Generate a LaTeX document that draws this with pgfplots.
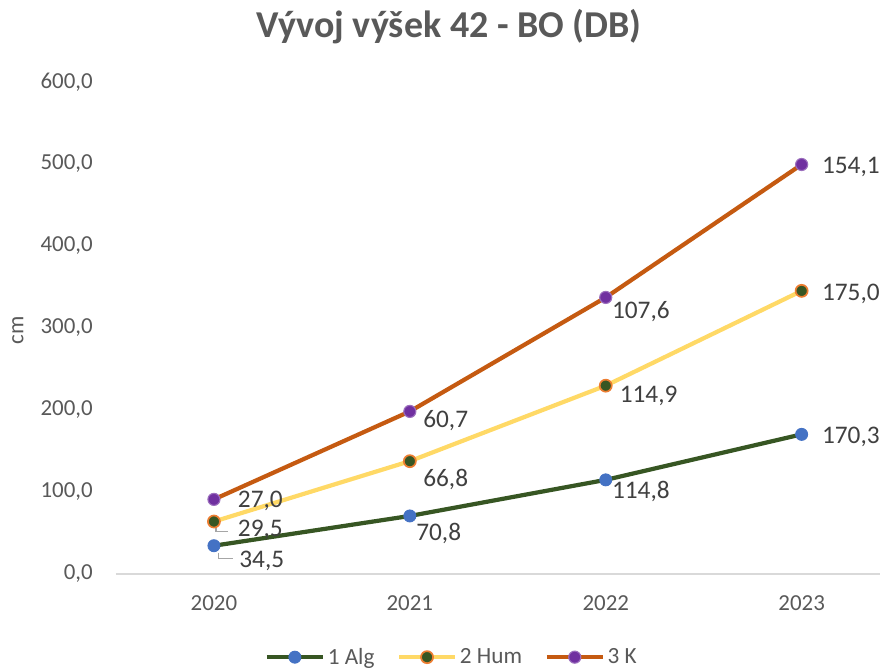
\documentclass[border=0pt]{standalone}
\usepackage{pgfplots}
\usepackage{pgfplotstable}
\usepackage{fontspec}
\setmainfont{Carlito}
\pgfplotsset{compat=1.18}
\definecolor{txtgray}{HTML}{595959}
\definecolor{lblgray}{HTML}{404040}
\definecolor{algline}{HTML}{375623}
\definecolor{algmark}{HTML}{4472C4}
\definecolor{humline}{HTML}{FFD966}
\definecolor{hummark}{HTML}{375623}
\definecolor{humedge}{HTML}{ED7D31}
\definecolor{kline}{HTML}{C55A11}
\definecolor{kmark}{HTML}{7030A0}
\definecolor{axgray}{HTML}{D9D9D9}
\definecolor{leader}{HTML}{A6A6A6}

% x = category index (0=2020 ... 3=2023); dx, dy = label offsets in pt
\pgfplotstableread{
x  val    dx    dy
0  34.5   34    -10.6
1  70.8   20.5  -12.8
2  114.8  25    -8
3  170.3  35    -2
}\algdata
\pgfplotstableread{
x  val    dx    dy
0  29.5   33    -5.7
1  66.8   25.5  -12.8
2  114.9  30.5  -7
3  175.0  35    -2
}\humdata
\pgfplotstableread{
x  val    dx    dy
0  27.0   33    -1.4
1  60.7   25.5  -6.4
2  107.6  25    -10
3  154.1  35    -2
}\kdata

\begin{document}
\begin{tikzpicture}
\begin{axis}[
  scale only axis,
  width=19.1cm, height=12.3cm,
  xmin=-0.5, xmax=3.4,
  ymin=0, ymax=600,
  clip=false,
  stack plots=y,
  axis y line*=left,
  axis x line*=bottom,
  y axis line style={draw=none},
  x axis line style={draw=axgray, line width=1pt},
  xtick={0,1,2,3},
  xticklabels={2020,2021,2022,2023},
  ytick={0,100,...,600},
  major tick length=0pt,
  tick style={draw=none},
  yticklabel style={/pgf/number format/fixed, /pgf/number format/fixed zerofill, /pgf/number format/precision=1, /pgf/number format/use comma, /pgf/number format/1000 sep={}},
  /pgf/number format/assume math mode=true,
  ticklabel style={font=\fontsize{16.3}{19}\selectfont, text=txtgray},
  xticklabel style={yshift=-12pt},
  yticklabel style={xshift=-13pt},
  title={\textbf{Vývoj výšek 42 - BO (DB)}},
  title style={font=\fontsize{27}{32}\selectfont, text=txtgray, at={(rel axis cs:0.436,1)}, anchor=center, yshift=1.18cm},
  nodes near coords,
  point meta=explicit,
  nodes near coords style={/pgf/number format/fixed, /pgf/number format/fixed zerofill, /pgf/number format/precision=1, /pgf/number format/use comma, /pgf/number format/1000 sep={}},
  visualization depends on={\thisrow{dx}\as\dx},
  visualization depends on={\thisrow{dy}\as\dy},
  every node near coord/.append style={font=\fontsize{18}{21}\selectfont, text=lblgray, anchor=center, xshift=\dx*1pt, yshift=\dy*1pt},
  legend columns=3,
  legend style={draw=none, at={(0.44,-0.169)}, anchor=center, font=\fontsize{16.5}{19}\selectfont, text=txtgray, /tikz/every even column/.append style={column sep=14pt}},
  legend image code/.code={\draw[mark repeat=2, mark phase=2, #1] plot coordinates {(0cm,0cm) (0.7cm,0cm) (1.4cm,0cm)};},
]
\addplot[algline, line width=3pt, mark=*, mark size=4.3pt, mark options={fill=algmark, draw=algmark, line width=0.6pt}]
  table[x=x, y=val, meta=val] {\algdata};
\addlegendentry{1 Alg}
\addplot[humline, line width=3pt, mark=*, mark size=4.3pt, mark options={fill=hummark, draw=humedge, line width=1.2pt}]
  table[x=x, y=val, meta=val] {\humdata};
\addlegendentry{2 Hum}
\addplot[kline, line width=3pt, mark=*, mark size=4.3pt, mark options={fill=kmark, draw=kmark!70!white, line width=0.8pt}]
  table[x=x, y=val, meta=val] {\kdata};
\addlegendentry{3 K}
% leader lines of the 2020 labels
\draw[leader, line width=0.8pt] ([xshift=3.5pt,yshift=-5pt]axis cs:0,34.5) |- ([xshift=13.5pt,yshift=-9.2pt]axis cs:0,34.5);
\draw[leader, line width=0.8pt] ([xshift=1.5pt,yshift=-4.3pt]axis cs:0,64) |- ([xshift=10pt,yshift=-7pt]axis cs:0,64);
\end{axis}
\node[rotate=90, font=\fontsize{16.3}{19}\selectfont, text=txtgray] at (-2.45cm,6.1cm) {cm};
\pgfresetboundingbox
\path (-2.9cm,-2.35cm) rectangle (19.1cm,14.35cm);
\end{tikzpicture}
\end{document}
